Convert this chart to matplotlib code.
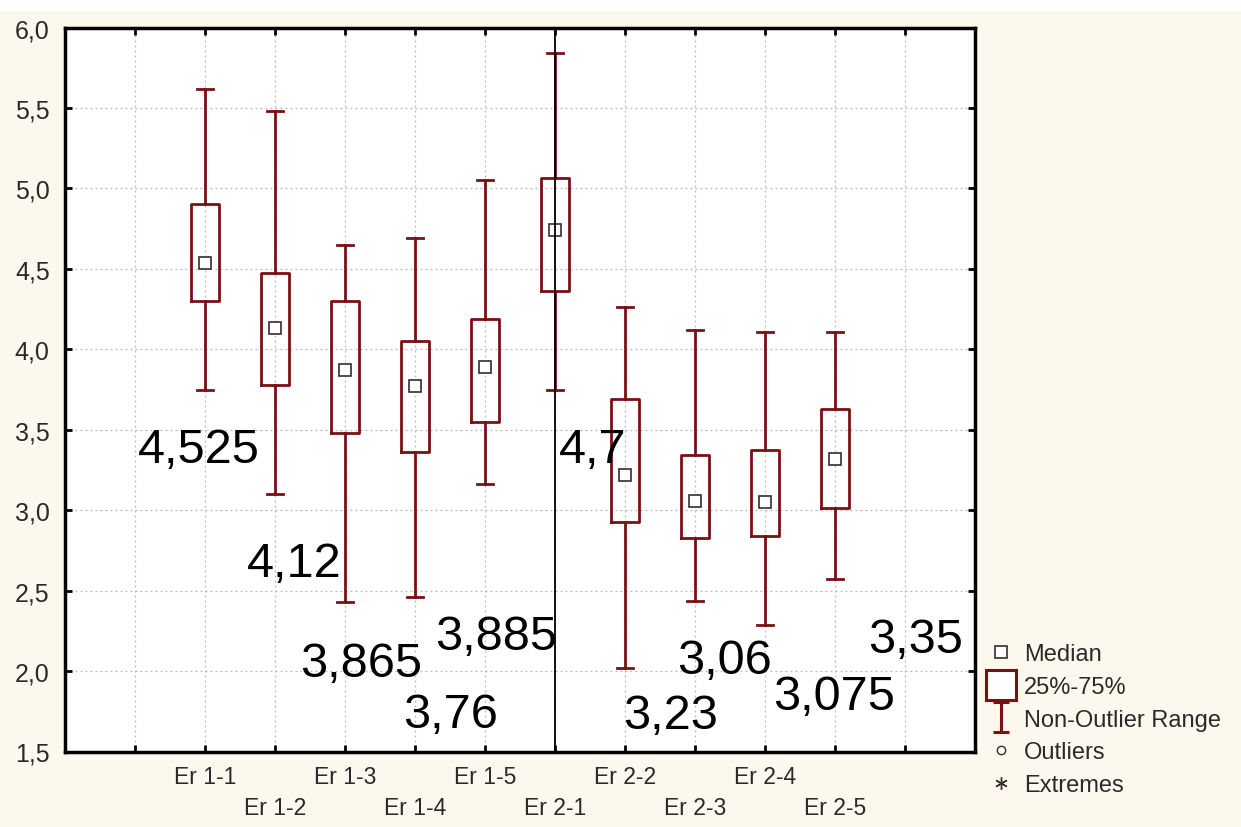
import matplotlib
matplotlib.use("Agg")
import matplotlib.pyplot as plt
from matplotlib import font_manager
from matplotlib.lines import Line2D
from matplotlib.patches import Rectangle
from matplotlib.path import Path

# Box statistics
groups = ["Er 1-1", "Er 1-2", "Er 1-3", "Er 1-4", "Er 1-5",
          "Er 2-1", "Er 2-2", "Er 2-3", "Er 2-4", "Er 2-5"]
whisker_hi = [5.62, 5.48, 4.65, 4.69, 5.055, 5.84, 4.26, 4.12, 4.105, 4.11]
q3 = [4.90, 4.475, 4.30, 4.05, 4.19, 5.065, 3.69, 3.345, 3.375, 3.63]
medians = [4.535, 4.135, 3.87, 3.77, 3.89, 4.74, 3.22, 3.06, 3.05, 3.315]
q1 = [4.30, 3.78, 3.48, 3.36, 3.545, 4.365, 2.925, 2.825, 2.84, 3.015]
whisker_lo = [3.75, 3.10, 2.43, 2.46, 3.16, 3.75, 2.02, 2.435, 2.285, 2.57]

# big labels typed on top of the chart
note_texts = ["4,525", "4,12", "3,865", "3,885", "3,76",
              "4,7", "3,23", "3,06", "3,075", "3,35"]
note_x = [1.04, 2.6, 3.36, 5.29, 4.83, 7.06, 7.97, 8.75, 10.11, 11.47]
note_y = [3.30, 2.59, 1.97, 2.14, 1.655, 3.30, 1.643, 1.985, 1.765, 2.12]

y_ticks = [1.5, 2.0, 2.5, 3.0, 3.5, 4.0, 4.5, 5.0, 5.5, 6.0]
y_labels = ["1,5", "2,0", "2,5", "3,0", "3,5", "4,0", "4,5", "5,0", "5,5", "6,0"]

maroon = "#7a0f14"
cream = "#fcf8ee"
text_grey = "#2a2a2a"

plt.rcParams['font.family'] = ['Liberation Sans', 'DejaVu Sans']

# narrow face for the category names if there is one
installed = {f.name for f in font_manager.fontManager.ttflist}
narrow = "Liberation Sans Narrow" if "Liberation Sans Narrow" in installed else "Liberation Sans"
cat_size = 18 if narrow == "Liberation Sans Narrow" else 16.5

fig = plt.figure(figsize=(12.41, 8.28), dpi=100, facecolor=cream)
fig.patches.append(Rectangle((0, 1 - 12 / 828), 1, 12 / 828, transform=fig.transFigure,
                             facecolor="white", edgecolor="none", zorder=0))
ax = fig.add_axes([65 / 1241, 1 - 752.5 / 828, 910 / 1241, 724 / 828])

positions = list(range(2, 2 + len(groups)))
stats = []
for i, g in enumerate(groups):
    stats.append(dict(label=g, med=medians[i], q1=q1[i], q3=q3[i],
                      whislo=whisker_lo[i], whishi=whisker_hi[i], fliers=[]))

ax.bxp(stats, positions=positions, widths=0.4, capwidths=0.24, showfliers=False,
       boxprops=dict(color=maroon, linewidth=2.0),
       whiskerprops=dict(color=maroon, linewidth=2.0),
       capprops=dict(color=maroon, linewidth=2.0),
       medianprops=dict(linewidth=0), zorder=3)
ax.plot(positions, medians, linestyle="none", marker="s", markersize=8,
        markerfacecolor="white", markeredgecolor="#3a2c2c", markeredgewidth=1.2, zorder=4)

ax.axvline(7, color="black", linewidth=1.3, zorder=6)

for t, x, y in zip(note_texts, note_x, note_y):
    ax.text(x, y, t, fontsize=35, ha="left", va="baseline", color="black", zorder=7)

ax.set_xlim(0, 13)
ax.set_ylim(1.5, 6.0)
ax.set_xticks(range(1, 13))
ax.set_xticklabels([])
ax.set_yticks(y_ticks)
ax.set_yticklabels(y_labels, fontsize=18, color=text_grey)
ax.tick_params(direction="in", length=5, width=2, top=True, right=True, pad=11)
ax.grid(True, color="#b8b8b8", linestyle=(0, (1.5, 2.5)), linewidth=0.9)
ax.set_axisbelow(True)
for s in ax.spines.values():
    s.set_linewidth(2.5)

# staggered category labels
for i, (p, g) in enumerate(zip(positions, groups)):
    y_off = -0.035 if i % 2 == 0 else -0.077
    ax.text(p, y_off, g, transform=ax.get_xaxis_transform(), ha="center", va="center",
            fontsize=cat_size, color=text_grey, family=narrow)

# legend
cap_path = Path([(-0.5, -1), (0.5, -1), (0, -1), (0, 1), (-0.5, 1), (0.5, 1)],
                [Path.MOVETO, Path.LINETO, Path.MOVETO, Path.LINETO, Path.MOVETO, Path.LINETO])
handles = [
    Line2D([], [], linestyle="none", marker="s", markersize=8, markerfacecolor="white",
           markeredgecolor="#3a2c2c", markeredgewidth=1.2),
    Line2D([], [], linestyle="none", marker="s", markersize=21, markerfacecolor="white",
           markeredgecolor=maroon, markeredgewidth=2.2),
    Line2D([], [], linestyle="none", marker=cap_path, markersize=22,
           markeredgecolor=maroon, markeredgewidth=2.2),
    Line2D([], [], linestyle="none", marker="o", markersize=6, markerfacecolor="white",
           markeredgecolor="#3a2c2c", markeredgewidth=1.0),
    Line2D([], [], linestyle="none", marker=(6, 2, 0), markersize=9,
           markeredgecolor="#3a2c2c", markeredgewidth=1.0),
]
labels = ["Median", "25%-75%", "Non-Outlier Range", "Outliers", "Extremes"]
fig.legend(handles, labels, loc="upper left", bbox_to_anchor=(980 / 1241, 1 - 635 / 828),
           frameon=False, fontsize=17, handlelength=1.0, handletextpad=0.45,
           labelspacing=0.45, borderaxespad=0, labelcolor=text_grey)

fig.savefig("out.png", dpi=100, facecolor=cream)
